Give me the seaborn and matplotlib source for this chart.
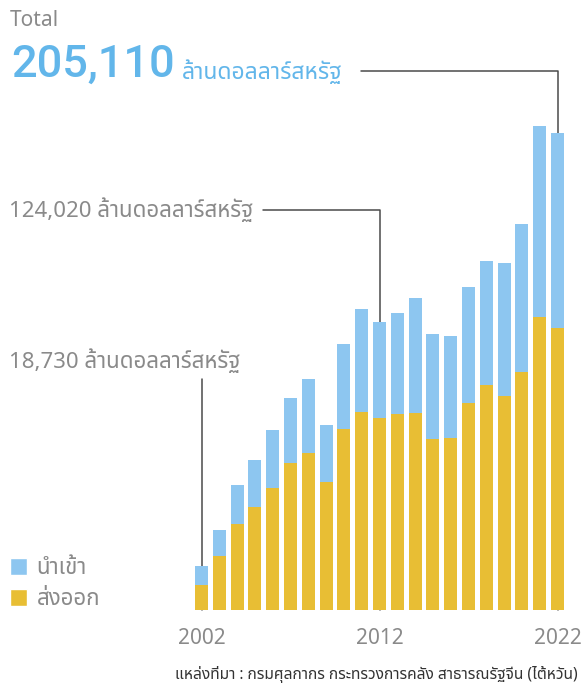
import matplotlib
matplotlib.use("Agg")
import pandas as pd
import seaborn as sns
import matplotlib.pyplot as plt
from matplotlib.lines import Line2D
from matplotlib.patches import Patch

# data (million USD)
years = [str(y) for y in range(2002, 2023)]
export = [10750, 23350, 37110, 44290, 52590, 63210, 67510, 55170, 77830, 85270, 82690,
          84410, 84710, 73530, 74090, 89010, 96750, 92150, 102470, 125990, 121390]
total = [18730, 34400, 53750, 64500, 77400, 91160, 99330, 79550, 114380, 129430, 124020,
         127710, 134160, 118680, 117820, 138890, 150070, 149210, 165980, 208120, 205110]
imports = [t - e for t, e in zip(total, export)]

tick_years = ['2002', '2012', '2022']
legend_labels = ['นำเข้า', 'ส่งออก']
unit = 'ล้านดอลลาร์สหรัฐ'
source = 'แหล่งที่มา : กรมศุลกากร กระทรวงการคลัง สาธารณรัฐจีน (ไต้หวัน)'

df = pd.DataFrame({'year': years, 'export': export, 'imports': imports, 'total': total})

blue = '#8DC6F0'
yellow = '#E8BE34'
big_blue = '#62B6EA'
grey = '#8A8A8A'
line_col = '#4A4A4A'

sns.set_style('white')
plt.rcParams['font.family'] = ['Noto Sans Thai', 'DejaVu Sans']

W, H = 585, 685
fig = plt.figure(figsize=(W / 100, H / 100), dpi=100)
ax = fig.add_axes([190 / W, 75 / H, 380 / W, 490 / H])

# stacked bars: total in blue, export drawn over it in yellow
sns.barplot(data=df, x='year', y='total', color=blue, saturation=1, width=0.73, ax=ax,
            linewidth=0, edgecolor='none')
sns.barplot(data=df, x='year', y='export', color=yellow, saturation=1, width=0.73, ax=ax,
            linewidth=0, edgecolor='none')

ax.set_xlim(-0.646, 20.70)
ax.set_ylim(0, 210700)
ax.set_xlabel('')
ax.set_ylabel('')
ax.set_yticks([])
ax.set_xticks([years.index(y) for y in tick_years])
ax.set_xticklabels(tick_years, fontsize=15, color=grey)
ax.tick_params(axis='x', length=11, width=1.0, color=line_col, pad=2)
sns.despine(ax=ax, left=True, bottom=True)


def fx(px):
    return px / W


def fy(py):
    return 1 - py / H


# bar centres in pixels
fig.canvas.draw()
def bar_px(year):
    x, _ = ax.transData.transform((years.index(year), 0))
    return x

base_y = fy(610)

# leader lines
lines = [
    ([fx(361), fx(bar_px('2022')), fx(bar_px('2022'))], [fy(71), fy(71), base_y]),
    ([fx(263), fx(bar_px('2012')), fx(bar_px('2012'))], [fy(210), fy(210), base_y]),
    ([fx(bar_px('2002')), fx(bar_px('2002'))], [fy(379), base_y]),
]
for xs, ys in lines:
    fig.add_artist(Line2D(xs, ys, color=line_col, lw=1.1, zorder=0.5, transform=fig.transFigure))
ax.set_zorder(1)
ax.patch.set_alpha(0)

# header
fig.text(fx(10), fy(26), 'Total', fontsize=15, color=grey, va='baseline')
fig.text(fx(11), fy(77), f"{total[years.index('2022')]:,}", fontsize=32.5, fontweight='medium',
         family=['Roboto', 'DejaVu Sans'], color=big_blue, va='baseline')
fig.text(fx(182), fy(79), unit, fontsize=16.5, color=big_blue, va='baseline')

# callout labels
fig.text(fx(9), fy(217), f"{total[years.index('2012')]:,} {unit}", fontsize=16, color=grey, va='baseline')
fig.text(fx(9), fy(368), f"{total[years.index('2002')]:,} {unit}", fontsize=16, color=grey, va='baseline')

# legend
handles = [Patch(facecolor=blue, label=legend_labels[0]), Patch(facecolor=yellow, label=legend_labels[1])]
fig.legend(handles=handles, loc='lower left', bbox_to_anchor=(fx(1), fy(619)), frameon=False,
           fontsize=16, labelcolor=grey, handlelength=0.75, handleheight=0.75, handletextpad=0.45,
           labelspacing=0.45, borderaxespad=0)

# source
fig.text(fx(578), fy(679), source, fontsize=11.2, color='#333333', ha='right', va='baseline')

fig.savefig('out.png', dpi=100)
